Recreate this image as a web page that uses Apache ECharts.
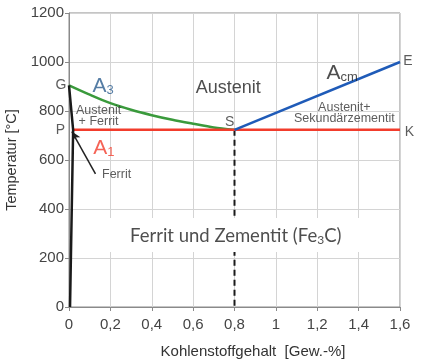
<!DOCTYPE html>
<html><head><meta charset="utf-8">
<script src="https://cdn.jsdelivr.net/npm/echarts@6/dist/echarts.min.js"></script>
<style>html,body{margin:0;padding:0;background:#fff}#c{width:423px;height:360px}</style>
</head><body><div id="c"></div>
<script>
// ---- data ----
const xTickLabels = ['0','0,2','0,4','0,6','0,8','1','1,2','1,4','1,6'];
const yTickLabels = ['0','200','400','600','800','1000','1200'];
const a3Line = [[0,905],[0.1,867],[0.2,832],[0.3,805],[0.4,783],[0.5,764],[0.6,748],[0.7,733],[0.8,723]]; // G - S
const a1Line = [[0.02,723],[1.6,723]];                                  // P - K
const acmLine = [[0.8,723],[1.6,1000]];                                 // S - E
const ferritLine = [[0,905],[0.02,723],[0.005,0]];                      // G - P - Q
const sLine = [[0.8,723],[0.8,0]];                                      // S vertical
const arrowFrom = [0.128,543];
const arrowTo = [0.014,716];
const textBoxCorners = [[0.02,363],[1.594,224]];                        // white box behind Fe3C text
// annotation anchors (data coords) and texts
const annotations = [
  {pos:[-0.039,905], text:'G', kind:'pt'},
  {pos:[-0.041,720], text:'P', kind:'pt'},
  {pos:[1.638,1004], text:'E', kind:'pt'},
  {pos:[1.646,712], text:'K', kind:'pt'},
  {pos:[0.777,754], text:'S', kind:'pt'},
  {pos:[0.770,892], text:'Austenit', kind:'big'},
  {pos:[0.143,780], text:'Austenit\n+ Ferrit', kind:'small'},
  {pos:[1.331,792], text:'Austenit+\nSekundärzementit', kind:'small'},
  {pos:[0.230,539], text:'Ferrit', kind:'small'},
  {pos:[0.165,904], text:'{a|A}{s|3}', kind:'a3'},
  {pos:[0.169,649], text:'{a|A}{s|1}', kind:'a1'},
  {pos:[1.321,955], text:'{a|A}{s|cm}', kind:'acm'},
  {pos:[0.806,290], text:'{t|Ferrit und Zementit (Fe}{s|3}{t|C)}', kind:'fe'}
];
const FONT = '"Liberation Sans", Arial, sans-serif';
const FE_FONT = 'Lato, "Open Sans", sans-serif';
const styles = {
  pt:{fontSize:14, color:'#333'},
  big:{fontSize:18, color:'#222'},
  small:{fontSize:12.5, color:'#333', lineHeight:11.5},
  a3:{rich:{a:{fontSize:21,color:'#2b5d8e',lineHeight:22,verticalAlign:'bottom',fontFamily:FONT},s:{fontSize:13,color:'#2b5d8e',lineHeight:13,verticalAlign:'bottom',fontFamily:FONT}}},
  a1:{rich:{a:{fontSize:21,color:'#f23c2c',lineHeight:22,verticalAlign:'bottom',fontFamily:FONT},s:{fontSize:13,color:'#f23c2c',lineHeight:13,verticalAlign:'bottom',fontFamily:FONT}}},
  acm:{rich:{a:{fontSize:21,color:'#222',lineHeight:22,verticalAlign:'bottom',fontFamily:FONT},s:{fontSize:13,color:'#222',lineHeight:13,verticalAlign:'bottom',fontFamily:FONT}}},
  fe:{rich:{t:{fontSize:18.5,color:'#222',lineHeight:20,verticalAlign:'bottom',fontFamily:FE_FONT},s:{fontSize:12,color:'#222',lineHeight:11,verticalAlign:'bottom',fontFamily:FE_FONT}}}
};

const chart = echarts.init(document.getElementById('c'), null, {renderer:'canvas'});
const axisCol = '#8a8a8a';
const annData = annotations.map(a => ({
  value: a.pos,
  label: Object.assign({show:true, position:'inside', align:'center', verticalAlign:'middle',
    fontFamily:FONT, formatter: a.text}, styles[a.kind])
}));
chart.setOption({
  animation:false,
  grid:{left:69, right:23, top:13, bottom:53, show:true, borderColor:axisCol, borderWidth:1,
    containLabel:false, outerBoundsMode:'none'},
  xAxis:{type:'value', min:0, max:1.6, interval:0.2,
    axisLine:{show:true, lineStyle:{color:axisCol}},
    axisTick:{show:true, length:4, lineStyle:{color:axisCol}},
    splitLine:{show:true, lineStyle:{color:'#d4d4d4'}},
    axisLabel:{color:'#444', fontSize:15, fontFamily:FONT, margin:10,
      formatter:v => xTickLabels[Math.round(v/0.2)]},
    name:'Kohlenstoffgehalt  [Gew.-%]', nameLocation:'middle', nameGap:37,
    nameTextStyle:{color:'#333', fontSize:15, fontFamily:FONT, padding:[0,0,0,37]}},
  yAxis:{type:'value', min:0, max:1200, interval:200,
    axisLine:{show:true, lineStyle:{color:axisCol}},
    axisTick:{show:true, length:4, lineStyle:{color:axisCol}},
    splitLine:{show:true, lineStyle:{color:'#d4d4d4'}},
    axisLabel:{color:'#444', fontSize:15, fontFamily:FONT, margin:5,
      formatter:v => yTickLabels[Math.round(v/200)]},
    name:'Temperatur [°C]', nameLocation:'middle', nameGap:25, nameRotate:90,
    nameTextStyle:{color:'#333', fontSize:14.5, fontFamily:FONT}},
  series:[
    {type:'line', data:sLine, symbol:'none', lineStyle:{color:'#1a1a1a', width:2, type:[6,4]}},
    {type:'line', data:a3Line, smooth:0.3, symbol:'none', lineStyle:{color:'#3a9a3c', width:2.5}},
    {type:'line', data:a1Line, symbol:'none', lineStyle:{color:'#f23c2c', width:2.5}},
    {type:'line', data:acmLine, symbol:'none', lineStyle:{color:'#1f5bb8', width:2.5}},
    {type:'line', data:ferritLine, symbol:'none', z:6, lineStyle:{color:'#1a1a1a', width:2.5},
      markLine:{silent:true, symbol:['none','arrow'], symbolSize:[7,9],
        label:{show:false}, lineStyle:{color:'#222', width:1.5, type:'solid'},
        data:[[{coord:arrowFrom},{coord:arrowTo}]]}},
    {type:'scatter', data:annData, symbolSize:0, clip:false, silent:true, z:5}
  ]
});
// white box behind the "Ferrit und Zementit" text, placed through the axes' scales
const p1 = chart.convertToPixel({gridIndex:0}, textBoxCorners[0]);
const p2 = chart.convertToPixel({gridIndex:0}, textBoxCorners[1]);
chart.setOption({graphic:[{type:'rect', silent:true, z:4,
  shape:{x:Math.min(p1[0],p2[0]), y:Math.min(p1[1],p2[1]), width:Math.abs(p2[0]-p1[0]), height:Math.abs(p2[1]-p1[1])},
  style:{fill:'#ffffff'}}]});
</script></body></html>
